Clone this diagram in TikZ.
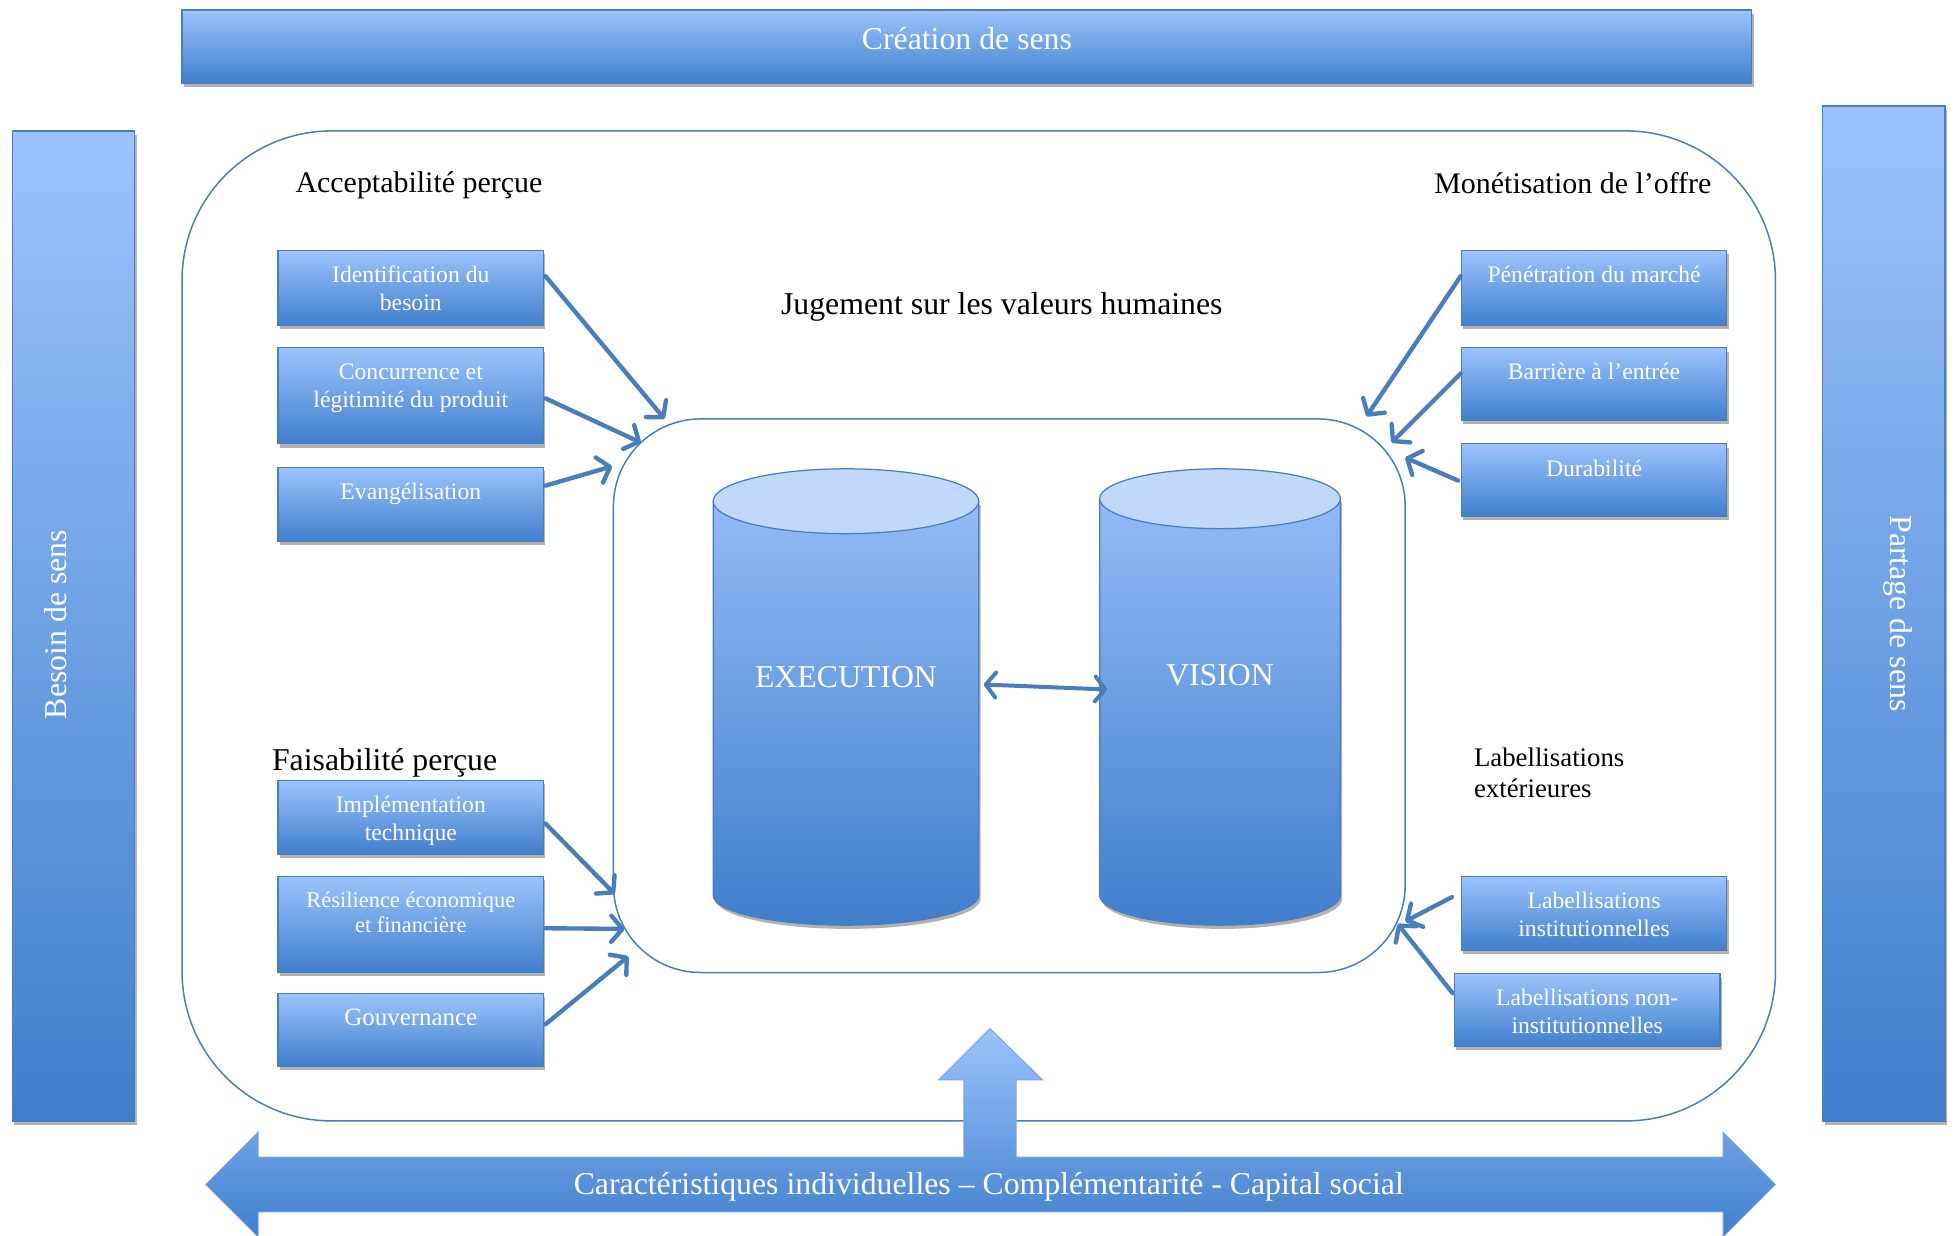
\documentclass[tikz,border=0pt]{standalone}
\usepackage{fontspec}
\setmainfont{Liberation Serif}
\usetikzlibrary{arrows.meta,shadows,calc}
\definecolor{lineblue}{RGB}{74,126,187}
\definecolor{boxtop}{RGB}{156,195,253}
\definecolor{boxbot}{RGB}{64,126,204}
\definecolor{captop}{RGB}{192,217,251}
\definecolor{cyltop}{RGB}{147,186,247}
\tikzset{
  shad/.style={drop shadow={shadow xshift=1.5pt,shadow yshift=-3pt,opacity=.3,fill=black}},
  fbox/.style={draw=lineblue,line width=1pt,top color=boxtop,bottom color=boxbot,minimum width=213pt,inner sep=0pt,shad},
  bar/.style={draw=lineblue,line width=1pt,top color=boxtop,bottom color=boxbot,inner sep=0pt,shad},
  btxt/.style={text=white,font=\fontsize{19}{22.5}\selectfont,align=center,anchor=base,inner sep=0pt},
  htxt/.style={text=black,font=\fontsize{24}{28}\selectfont,anchor=base,inner sep=0pt},
  wtxt/.style={text=white,font=\fontsize{25.5}{30}\selectfont,anchor=base,inner sep=0pt},
  frame/.style={draw=lineblue,line width=1.2pt,inner sep=0pt},
  conn/.style={draw=lineblue,line width=3.5pt,line cap=round,-{Straight Barb[length=9pt,width=21pt,round]}},
  conntwo/.style={draw=lineblue,line width=3.2pt,line cap=round,{Straight Barb[length=8pt,width=20pt,round]}-{Straight Barb[length=8pt,width=20pt,round]}},
}
\begin{document}
\begin{tikzpicture}[x=1pt,y=-1pt]
\path[use as bounding box] (0,0) rectangle (1568,991);
\clip (0,0) rectangle (1568,991);
\fill[white] (0,0) rectangle (1568,991);

% side and top bars
\node[bar,minimum width=1259pt,minimum height=59pt] (topbar) at (775.5,37.5) {};
\node[wtxt] (toptxt) at (775.5,40) {Création de sens};
\node[bar,minimum width=98pt,minimum height=794pt] (leftbar) at (59,502) {};
\node[wtxt,rotate=90] (lefttxt) at (53,501) {Besoin de sens};
\node[bar,minimum width=98pt,minimum height=814pt] (rightbar) at (1511,492) {};
\node[wtxt,rotate=-90] (righttxt) at (1516,492) {Partage de sens};

% frames
\node[frame,rounded corners=120pt,minimum width=1278pt,minimum height=794pt] (outer) at (785,502) {};
\node[frame,rounded corners=70pt,minimum width=635pt,minimum height=444pt] (inner) at (809.5,558) {};

% headings
\node[htxt] (acc) at (336,154) {Acceptabilité perçue};
\node[htxt] (mon) at (1261.5,155) {Monétisation de l’offre};
\node[htxt,font=\fontsize{25.5}{30}\selectfont] (jug) at (803.5,252) {Jugement sur les valeurs humaines};
\node[htxt,font=\fontsize{25.5}{30}\selectfont,anchor=base west] (fai) at (218,618) {Faisabilité perçue};
\node[htxt,font=\fontsize{21.5}{25}\selectfont,anchor=base west,align=left] (lab) at (1182,640) {Labellisations\\extérieures};

% cylinders
\path[draw=lineblue,line width=1pt,top color=cyltop,bottom color=boxbot,shad]
  (572,402) -- (572,718) .. controls (572,731.25) and (619.7,742) .. (678.5,742)
  .. controls (737.3,742) and (785,731.25) .. (785,718) -- (785,402) -- cycle;
\path[draw=lineblue,line width=1pt,fill=captop] (678.5,402) ellipse [x radius=106.5, y radius=26];
\path[draw=lineblue,line width=1pt,top color=cyltop,bottom color=boxbot,shad]
  (882,400) -- (882,718) .. controls (882,731.25) and (925.2,742) .. (978.5,742)
  .. controls (1031.8,742) and (1075,731.25) .. (1075,718) -- (1075,400) -- cycle;
\path[draw=lineblue,line width=1pt,fill=captop] (978.5,400) ellipse [x radius=96.5, y radius=24];
\node[wtxt] (exe) at (678.5,551) {EXECUTION};
\node[wtxt] (vis) at (978.5,550) {VISION};
\coordinate (exeR) at (789,549);
\coordinate (visL) at (888,553);
\draw[conntwo] (exeR) -- (visL);

% left boxes
\node[fbox,minimum height=60pt] (b1) at (329.5,231) {};
\node[btxt] (b1t) at ($(b1.north)+(0,48.5)$) {Identification du\\besoin};
\node[fbox,minimum height=77pt] (b2) at (329.5,317.5) {};
\node[btxt] (b2t) at ($(b2.north)+(0,48.5)$) {Concurrence et\\légitimité du produit};
\node[fbox,minimum height=59pt] (b3) at (329.5,404.5) {};
\node[btxt] (b3t) at ($(b3.north)+(0,26)$) {Evangélisation};
\node[fbox,minimum height=59pt] (b4) at (329.5,655.5) {};
\node[btxt] (b4t) at ($(b4.north)+(0,48.5)$) {Implémentation\\technique};
\node[fbox,minimum height=77pt] (b5) at (329.5,741.5) {};
\node[btxt,font=\fontsize{18}{20}\selectfont] (b5t) at ($(b5.north)+(0,45)$) {Résilience économique\\et financière};
\node[fbox,minimum height=58pt] (b6) at (329.5,826) {};
\node[btxt,font=\fontsize{20}{22}\selectfont] (b6t) at ($(b6.north)+(0,26)$) {Gouvernance};

% right boxes
\node[fbox,minimum height=60pt] (r1) at (1278.5,231) {};
\node[btxt] (r1t) at ($(r1.north)+(0,26)$) {Pénétration du marché};
\node[fbox,minimum height=58pt] (r2) at (1278.5,308) {};
\node[btxt] (r2t) at ($(r2.north)+(0,26)$) {Barrière à l’entrée};
\node[fbox,minimum height=58pt] (r3) at (1278.5,385) {};
\node[btxt] (r3t) at ($(r3.north)+(0,27)$) {Durabilité};
\node[fbox,minimum height=59pt] (r4) at (1278.5,732.5) {};
\node[btxt] (r4t) at ($(r4.north)+(0,48.5)$) {Labellisations\\institutionnelles};
\node[fbox,minimum height=58pt] (r5) at (1273,810) {};
\node[btxt] (r5t) at ($(r5.north)+(0,48.5)$) {Labellisations non-\\institutionnelles};

% arrow ends on the inner frame
\coordinate (e1) at (533,336);
\coordinate (e2) at (514,355);
\coordinate (e3) at (491,374);
\coordinate (e4) at (493,717);
\coordinate (e5) at (501,745);
\coordinate (e6) at (504,767);
\coordinate (e7) at (1096,334);
\coordinate (e8) at (1116,355);
\coordinate (e9) at (1127,367);
\coordinate (e10) at (1127,739);
\coordinate (e11) at (1121,741);

\draw[conn] ($(b1.north east)+(1,21)$) -- (e1);
\draw[conn] ($(b2.north east)+(1,41)$) -- (e2);
\draw[conn] ($(b3.north east)+(1,15)$) -- (e3);
\draw[conn] ($(b4.north east)+(1,35)$) -- (e4);
\draw[conn] ($(b5.north east)+(1,42)$) -- (e5);
\draw[conn] ($(b6.north east)+(1,25)$) -- (e6);
\draw[conn] ($(r1.north west)+(0,21)$) -- (e7);
\draw[conn] ($(r2.north west)+(0,21)$) -- (e8);
\draw[conn] ($(r3.north west)+(-2,30)$) -- (e9);
\draw[conn] ($(r4.north west)+(-7,17)$) -- (e10);
\draw[conn] ($(r5.north west)+(-1,16)$) -- (e11);

% bottom double arrow with upward arrow
\path[draw=boxtop!60!lineblue,line width=.8pt,top color=boxtop,bottom color=boxbot]
  (165,950) -- (207,908) -- (207,928) -- (773,928) -- (773,866) -- (753,866) -- (794,825)
  -- (836,866) -- (815,866) -- (815,928) -- (1382,928) -- (1382,908) -- (1424,950)
  -- (1382,992) -- (1382,972) -- (207,972) -- (207,992) -- cycle;
\node[wtxt] (bottxt) at (793,958) {Caractéristiques individuelles – Complémentarité - Capital social};
\end{tikzpicture}
\end{document}
